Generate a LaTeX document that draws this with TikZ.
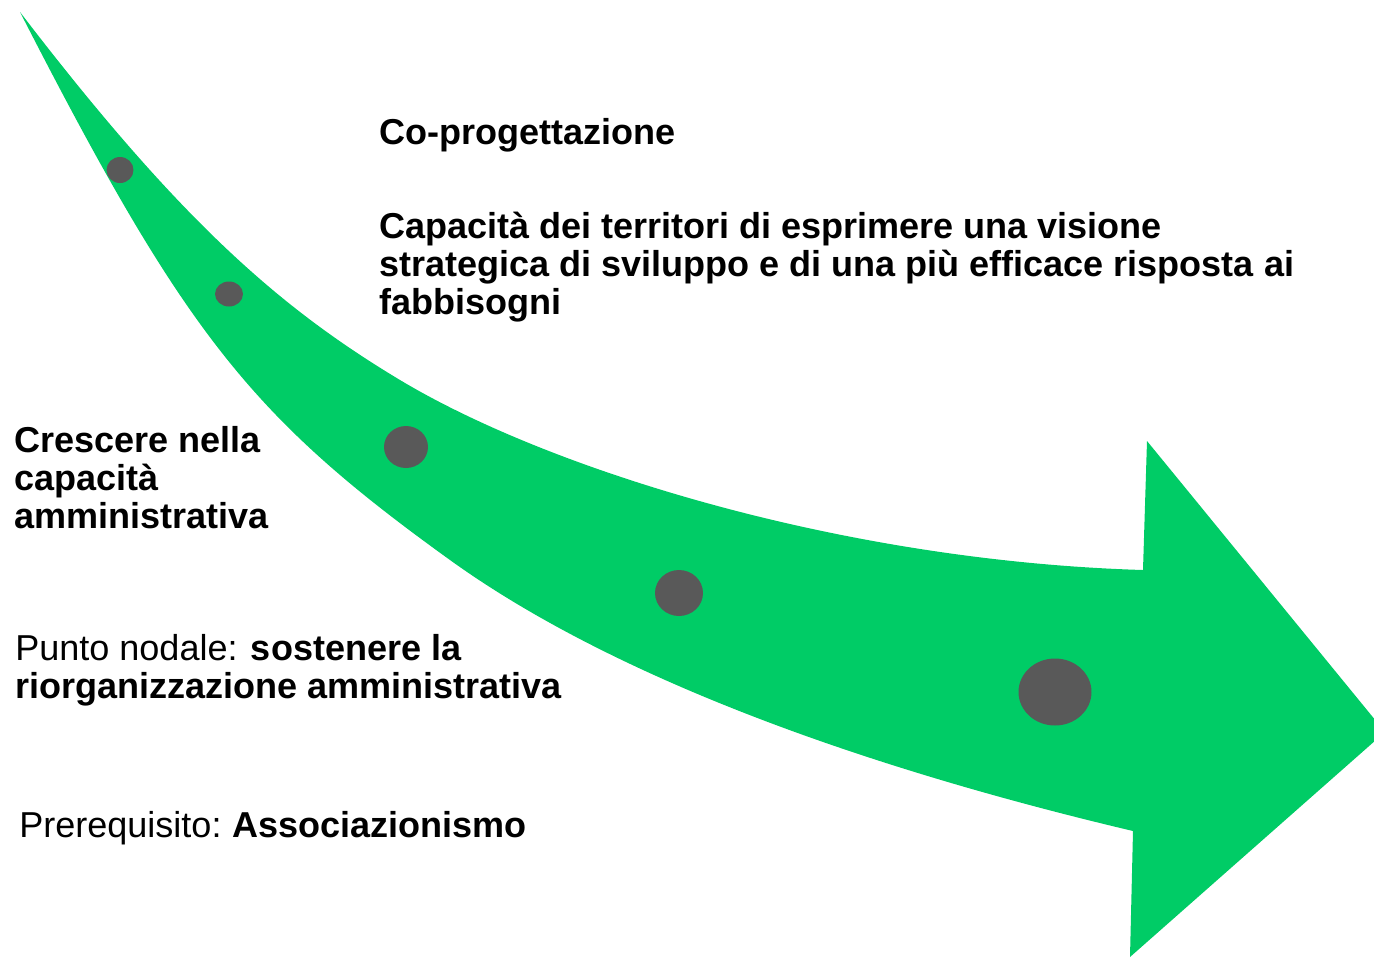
\documentclass[tikz,border=0pt]{standalone}
\usepackage{fontspec}
\setmainfont{Liberation Sans}
\usetikzlibrary{shapes.geometric}
\definecolor{arrowgreen}{RGB}{0,204,102}
\definecolor{dotgray}{RGB}{89,89,89}
\tikzset{
    % text blocks (base = last line)
    txtblock/.style={anchor=base west, align=left, inner sep=0pt,
                font=\fontsize{20.5pt}{21.6pt}\selectfont},
    txtbold/.style={txtblock, font=\fontsize{20.5pt}{21.6pt}\selectfont\bfseries},
    % dots along the arrow
    tappa/.style={ellipse, fill=dotgray, draw=none, inner sep=0pt},
}
\begin{document}
\begin{tikzpicture}[x=0.02cm, y=-0.02cm]
\useasboundingbox (0,0) rectangle (1374,958);

% curved arrow
\fill[arrowgreen] (20,12)
    .. controls (180,221) and (280,308) .. (400,380)
    .. controls (550,470) and (843,561) .. (1143,570)
    -- (1147,441) -- (1385,732) -- (1130,957) -- (1133,831)
    .. controls (833,760) and (600,668) .. (450,560)
    .. controls (250,416) and (185,334) .. (20,12)
    -- cycle;

% dots
\node[tappa, minimum width=0.54cm, minimum height=0.52cm] (t1) at (120,170) {};
\node[tappa, minimum width=0.56cm, minimum height=0.50cm] (t2) at (229,294) {};
\node[tappa, minimum width=0.88cm, minimum height=0.84cm] (t3) at (406,447) {};
\node[tappa, minimum width=0.96cm, minimum height=0.92cm] (t4) at (679,593) {};
\node[tappa, minimum width=1.46cm, minimum height=1.34cm] (t5) at (1055,692) {};

% labels
\node[txtbold] (coprog) at (379,144) {Co-progettazione};
\node[txtbold] (visione) at (379,314) {Capacità dei territori di esprimere una visione\\
    strategica di sviluppo e di una più efficace risposta ai\\
    fabbisogni};
\node[txtbold] (crescere) at (14,528) {Crescere nella\\capacità\\amministrativa};
\node[txtblock] (nodale) at (15,698) {Punto nodale: \textbf{sostenere la}\\
    \textbf{riorganizzazione amministrativa}};
\node[txtblock] (prereq) at (19,837) {Prerequisito:\hspace{-1.5pt} \textbf{Associazionismo}};
\end{tikzpicture}
\end{document}
